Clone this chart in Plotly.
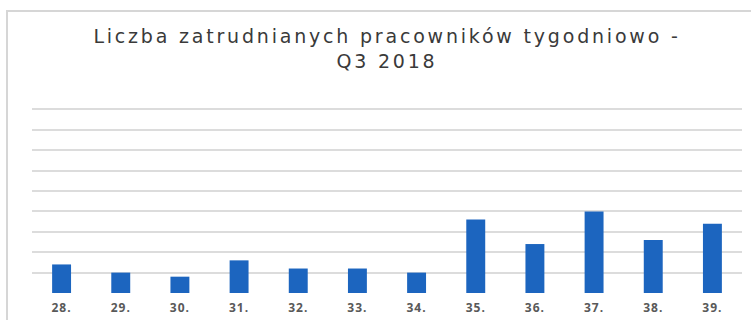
import plotly.graph_objects as go

# Weekly headcount, Q3 2018 (calendar weeks 28-39)
weeks = ["28.", "29.", "30.", "31.", "32.", "33.", "34.", "35.", "36.", "37.", "38.", "39."]
employees = [7, 5, 4, 8, 6, 6, 5, 18, 12, 20, 13, 17]

title_text = "Liczba zatrudnianych pracowników tygodniowo -<br>Q3 2018"

W, H = 751, 320
m_left, m_right, m_top, m_bottom = 32, 9, 89, 27

fig = go.Figure(
    go.Bar(
        x=weeks,
        y=employees,
        marker=dict(color="#1c65bf", line=dict(width=0)),
        hoverinfo="x+y",
    )
)

plot_w = W - m_left - m_right
plot_h = H - m_top - m_bottom

fig.update_layout(
    width=W,
    height=H,
    margin=dict(l=m_left, r=m_right, t=m_top, b=m_bottom, pad=0, autoexpand=False),
    paper_bgcolor="white",
    plot_bgcolor="white",
    bargap=0.68,
    showlegend=False,
    title=dict(
        text=title_text,
        x=0.5,
        xanchor="center",
        xref="paper",
        y=1 - 43 / H,
        yref="container",
        yanchor="middle",
        font=dict(family="DejaVu Sans", size=19, color="#3a3a3a"),
        automargin=False,
    ),
    xaxis=dict(
        showgrid=False,
        showline=False,
        ticks="",
        automargin=False,
        ticklabelstandoff=6,
        tickfont=dict(family="Open Sans", size=12, color="#595959", weight="bold"),
    ),
    yaxis=dict(
        range=[0, 50],
        dtick=5,
        showgrid=True,
        gridcolor="#dcdcdc",
        gridwidth=1.5,
        zeroline=False,
        showline=False,
        showticklabels=False,
        ticks="",
        automargin=False,
    ),
    shapes=[
        # light frame around the chart area
        dict(
            type="rect",
            xref="paper",
            yref="paper",
            x0=(7 - m_left) / plot_w,
            x1=(W + 10 - m_left) / plot_w,
            y0=-(m_bottom + 10) / plot_h,
            y1=(H - m_bottom - 11) / plot_h,
            line=dict(color="#d6d6d6", width=2),
            fillcolor="rgba(0,0,0,0)",
            layer="below",
        )
    ],
)

# widen the letter spacing of the title and week labels
spacing_js = """
document.querySelectorAll('.gtitle').forEach(function (t) { t.style.letterSpacing = '2.8px'; });
document.querySelectorAll('.xtick text').forEach(function (t) { t.style.letterSpacing = '1px'; });
"""

fig.write_html("out.html", post_script=spacing_js)
